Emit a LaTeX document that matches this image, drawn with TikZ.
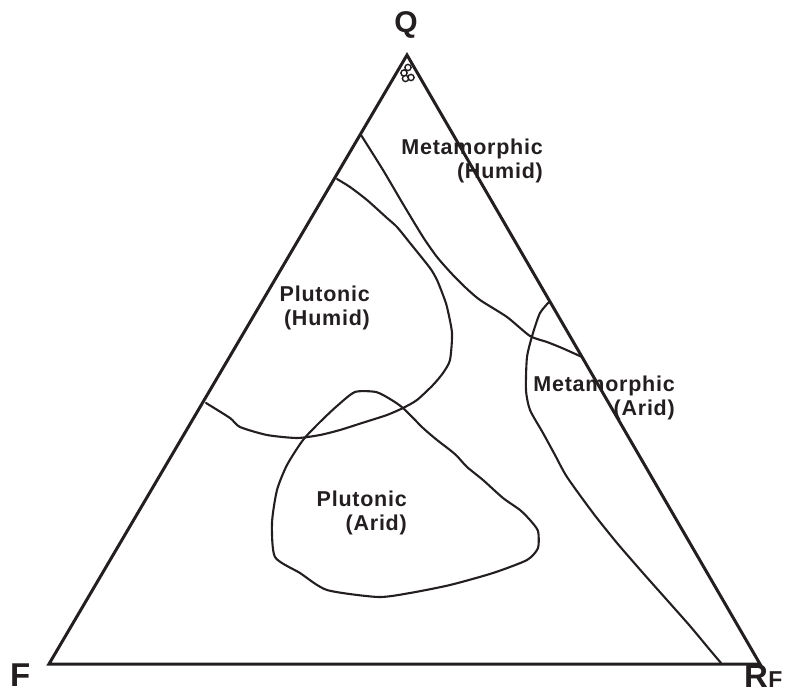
\documentclass[tikz,border=0pt]{standalone}
\usepackage{fontspec}
\setmainfont{Liberation Sans}
\newfontfamily\lblfont[LetterSpace=3.5]{Liberation Sans}
\begin{document}
\begin{tikzpicture}[x=1pt,y=-1pt,
  ink/.style={color={rgb,255:red,35;green,31;blue,32}},
  frame/.style={ink,line width=3pt,line join=miter},
  curve/.style={ink,line width=2.1pt,line join=round,line cap=round},
  dot/.style={ink,line width=1.4pt},
  lbl/.style={ink,inner sep=0pt,align=right,anchor=north east,font=\lblfont\bfseries\fontsize{21.5}{24}\selectfont},
  corner/.style={ink,inner sep=0pt,anchor=base west,font=\bfseries\fontsize{33}{35}\selectfont}]
\useasboundingbox (0,0) rectangle (788,693);
% corners
\coordinate (Qc) at (407,55);
\coordinate (Fc) at (49,664);
\coordinate (Rc) at (760,664);
\draw[frame] (Qc) -- (Fc) -- (Rc) -- cycle;
% apex dots
\draw[dot] (408,67.5) circle (3.1) (404,73) circle (3.1) (405.5,78.5) circle (3.1) (411,77.5) circle (3.1);
% corner labels
\node[ink,inner sep=0pt,anchor=base,font=\bfseries\fontsize{30}{32}\selectfont] (Q) at (406,33) {Q};
\node[corner] (F) at (10,686) {F};
\node[corner] (R) at (744,687) {R};
\node[ink,inner sep=0pt,anchor=base west,font=\bfseries\fontsize{23}{25}\selectfont] (Rsub) at (R.base east) {F};
% Metamorphic (Humid) boundary
\draw[curve] plot[smooth,tension=0.4] coordinates {(361,135) (383,170) (403,204) (423,237) (437,257) (452,274) (466,288) (480,300) (507,317) (530,336) (547,342) (562,348) (582,357)};
% Plutonic (Humid) boundary
\draw[curve] plot[smooth,tension=0.4] coordinates {(337,179) (350,187) (367,200) (387,218) (397,227) (410,243) (430,268) (437,280) (443,295) (447,307) (452,333) (450,360) (443,373) (433,385) (417,400) (403,408) (387,415) (362,423) (340,430) (320,435) (297,438) (267,435) (240,427) (230,418) (206,403)};
% Plutonic (Arid) field
\draw[curve] plot[smooth cycle,tension=0.4] coordinates {(355,392) (376,392) (390,399) (403,408) (423,428) (437,440) (450,450) (457,456) (467,467) (483,480) (503,498) (520,510) (530,520) (538,531) (538,548) (527,560) (493,573) (450,585) (410,593) (378,597) (327,590) (300,573) (275,557) (272,523) (277,490) (287,465) (303,440) (320,422) (337,406)};
% Metamorphic (Arid) boundary
\draw[curve] plot[smooth,tension=0.4] coordinates {(549,302) (540,313) (533,333) (527,357) (526,390) (530,410) (543,433) (555,455) (567,477) (593,513) (617,543) (643,573) (667,600) (690,626) (710,650) (721,663)};
% field labels
\node[lbl] (MH) at (543,139) {Metamorphic\\(Humid)};
\node[lbl] (PH) at (370,286) {Plutonic\\(Humid)};
\node[lbl] (MA) at (675,376) {Metamorphic\\(Arid)};
\node[lbl] (PA) at (407,491) {Plutonic\\(Arid)};
\end{tikzpicture}
\end{document}
